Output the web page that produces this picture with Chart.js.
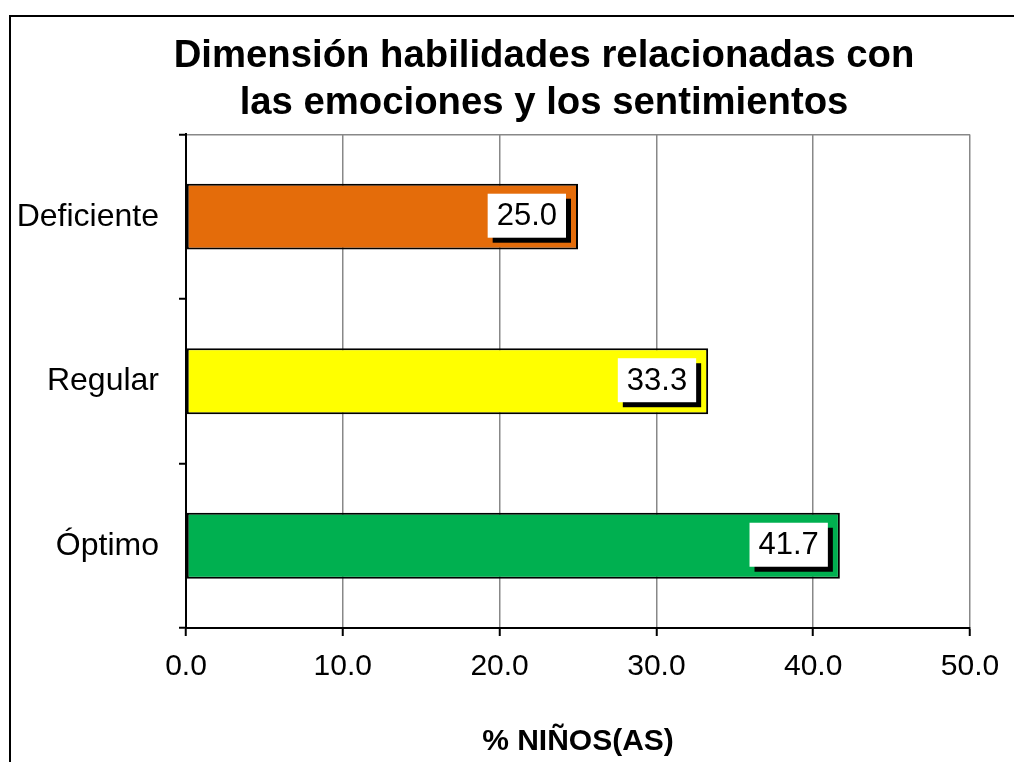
<!DOCTYPE html>
<html>
<head>
<meta charset="utf-8">
<script src="https://cdn.jsdelivr.net/npm/chart.js@4"></script>
<style>
  html, body { margin: 0; padding: 0; background: #fff; overflow: hidden; }
  #frame { position: absolute; left: 9px; top: 15px; width: 1100px; height: 800px;
           border-left: 2px solid #000; border-top: 2px solid #000; }
  #wrap { position: absolute; left: 0; top: 0; width: 1014px; height: 762px; }
</style>
</head>
<body>
<div id="frame"></div>
<div id="wrap"><canvas id="chart" width="1014" height="762"></canvas></div>
<script>
// datos del gráfico
const categories = ['Deficiente', 'Regular', 'Óptimo'];
const values = [25.0, 33.3, 41.7];
const barColors = ['#E46C0A', '#FFFF00', '#00B050'];
const xTicks = [0, 10, 20, 30, 40, 50];

const FONT = 'Arial, "Liberation Sans", sans-serif';

// centrar el título un poco más a la derecha, como en el original
const titleShift = {
    id: 'titleShift',
    afterLayout(chart) {
        if (chart.titleBlock) {
            chart.titleBlock.left = 118;
            chart.titleBlock.right = 970;
        }
    }
};

// etiquetas con caja blanca y sombra negra
const boxLabels = {
    id: 'boxLabels',
    afterDatasetsDraw(chart) {
        const ctx = chart.ctx;
        const meta = chart.getDatasetMeta(0);
        ctx.save();
        ctx.font = '31px ' + FONT;
        meta.data.forEach((bar, i) => {
            const txt = values[i].toFixed(1);
            const w = ctx.measureText(txt).width + 18;
            const h = 44;
            const right = bar.x - 12;
            const top = bar.y - 23;
            ctx.fillStyle = '#000';
            ctx.fillRect(right - w + 5, top + 5, w, h);
            ctx.fillStyle = '#fff';
            ctx.fillRect(right - w, top, w, h);
            ctx.fillStyle = '#000';
            ctx.textAlign = 'center';
            ctx.textBaseline = 'middle';
            ctx.fillText(txt, right - w / 2, top + h / 2 + 1);
        });
        ctx.restore();
    }
};

new Chart(document.getElementById('chart'), {
    type: 'bar',
    data: {
        labels: categories,
        datasets: [{
            data: values,
            backgroundColor: barColors,
            borderColor: '#000',
            borderWidth: 2,
            borderSkipped: false,
            categoryPercentage: 1.0,
            barPercentage: 0.4
        }]
    },
    options: {
        indexAxis: 'y',
        responsive: false,
        animation: false,
        layout: { padding: { left: 0, right: 44, top: 0, bottom: 2 } },
        plugins: {
            legend: { display: false },
            tooltip: { enabled: false },
            title: {
                display: true,
                text: ['Dimensión habilidades relacionadas con', 'las emociones y los sentimientos'],
                color: '#000',
                font: { family: FONT, size: 38.3, weight: 'bold', lineHeight: 1.22 },
                padding: { top: 33, bottom: 8 }
            }
        },
        scales: {
            x: {
                min: 0, max: 50,
                afterBuildTicks: s => { s.ticks = xTicks.map(v => ({ value: v })); },
                ticks: {
                    color: '#000',
                    font: { family: FONT, size: 30 },
                    padding: 13,
                    maxRotation: 0,
                    callback: v => Number(v).toFixed(1)
                },
                grid: { color: '#888', lineWidth: 1.5, tickColor: '#000', tickLength: 8, tickWidth: 2 },
                border: { color: '#000', width: 2 },
                title: {
                    display: true,
                    text: '% NIÑOS(AS)',
                    color: '#000',
                    font: { family: FONT, size: 30, weight: 'bold' },
                    padding: { top: 26, bottom: 0 }
                }
            },
            y: {
                afterFit: s => { s.width = 186; },
                ticks: {
                    color: '#000',
                    font: { family: FONT, size: 32 },
                    padding: 20
                },
                grid: {
                    color: c => c.index === 0 ? '#888' : 'rgba(0,0,0,0)',
                    lineWidth: 1.5,
                    tickColor: '#000',
                    tickLength: 7,
                    tickWidth: 2
                },
                border: { color: '#000', width: 2 }
            }
        }
    },
    plugins: [titleShift, boxLabels]
});
</script>
</body>
</html>
